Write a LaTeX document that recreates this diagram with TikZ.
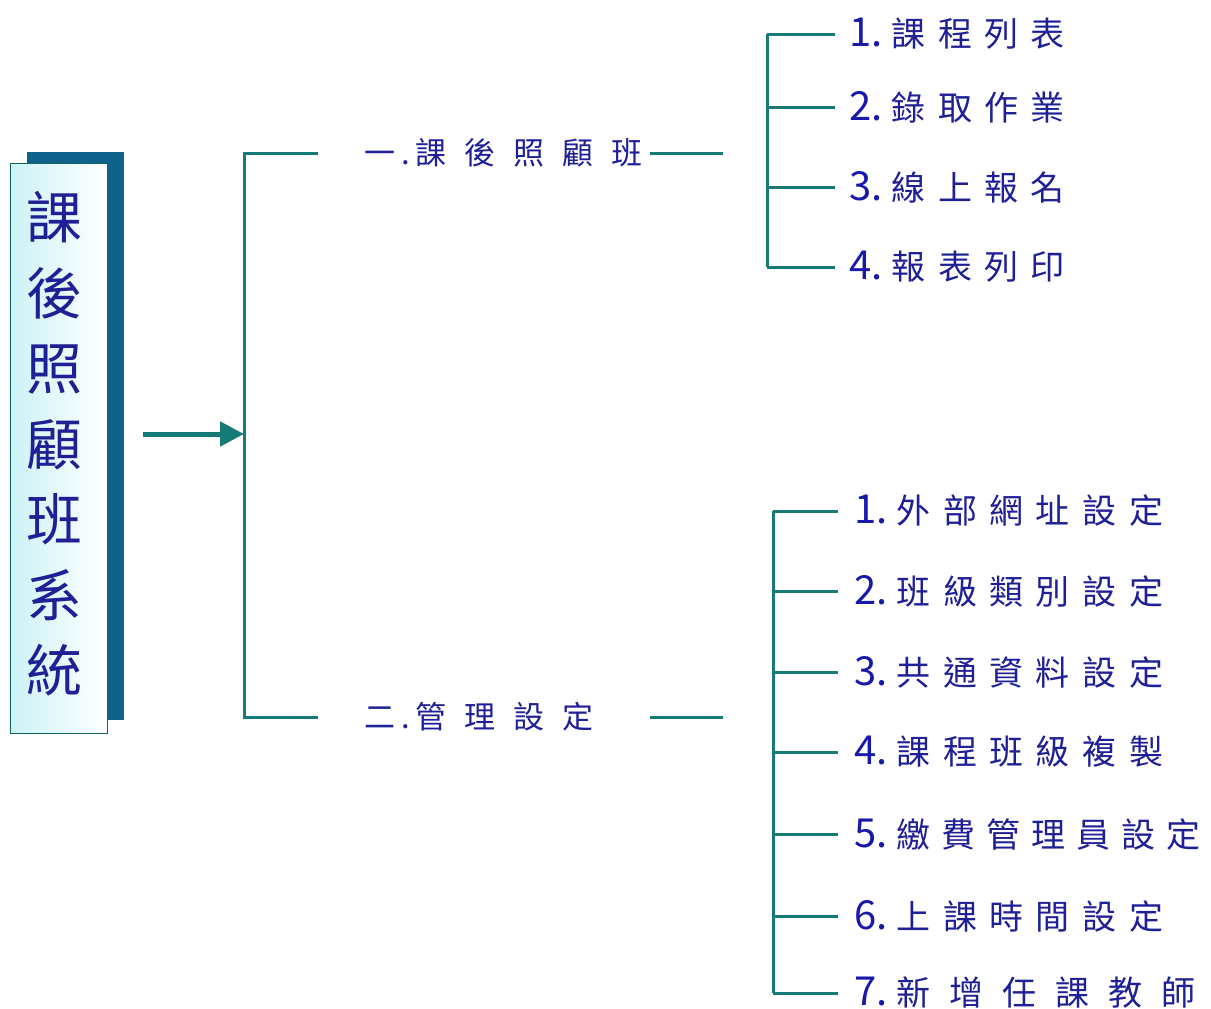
\documentclass[tikz,border=0pt]{standalone}
\usepackage{fontspec}
\newfontfamily\cjk{Noto Sans CJK TC}
\usetikzlibrary{arrows.meta,calc}
\definecolor{txtc}{RGB}{32,32,150}
\definecolor{numc}{RGB}{24,24,170}
\definecolor{lnc}{RGB}{22,122,118}
\definecolor{shadc}{RGB}{14,98,140}
\definecolor{boxl}{RGB}{205,242,246}
\newcommand\gp{\hspace{12.5pt}}
\newcommand\gw{\hspace{19pt}}
\newcommand\gq{\hspace{18pt}}
\newcommand\num[1]{{\color{numc}\fontsize{40}{40}\selectfont #1.}\hspace{9pt}}
\begin{document}
\begin{tikzpicture}[x=1pt,y=-1pt,
  ln/.style={draw=lnc,line width=3pt},
  lvtwo/.style={anchor=west,inner sep=0pt,text=txtc,font=\cjk\fontsize{31}{36}\selectfont},
  lvthree/.style={anchor=west,inner ysep=0pt,text=txtc,font=\cjk\fontsize{34}{40}\selectfont}]
\useasboundingbox (0,0) rectangle (1211,1009);
% main box with shadow
\fill[shadc] (27,152) rectangle (124,720);
\node[draw=lnc!80!black,line width=1pt,left color=boxl,right color=white,
      minimum width=97pt,minimum height=570pt,inner sep=0pt] (main) at (58.5,448) {};
\node[text=txtc,align=center,font=\cjk\fontsize{56}{75.5}\selectfont] (title) at (55,444)
  {課\\後\\照\\顧\\班\\系\\統};
% arrow to bracket
\coordinate (As) at (143,434);
\coordinate (Am) at (244,434);
\draw[draw=lnc,line width=5pt,-{Triangle[length=24pt,width=24pt]}] (As) -- (Am);
% first bracket
\coordinate (T) at (244,153);
\coordinate (B) at (244,717);
\coordinate (Te) at (318,153);
\coordinate (Be) at (318,717);
\draw[ln] (Te) -- (T) -- (B) -- (Be);
\node[lvtwo] (L1) at (364,153) {一\hspace{6pt}.\hspace{6pt}課\gq{}後\gq{}照\gq{}顧\gq{}班};
\node[lvtwo] (L2) at (364,717) {二\hspace{6pt}.\hspace{6pt}管\gq{}理\gq{}設\gq{}定};
\coordinate (L1a) at (650,153); \coordinate (L1b) at (723,153);
\coordinate (L2a) at (650,717); \coordinate (L2b) at (723,717);
\draw[ln] (L1a) -- (L1b);
\draw[ln] (L2a) -- (L2b);
% top-right group
\coordinate (ax) at (767,0);
\begin{scope}[every node/.append style={lvthree,inner xsep=14pt}]
\node (a1) at (835,34)  {\num{1}課\gp{}程\gp{}列\gp{}表};
\node (a2) at (835,107) {\num{2}錄\gp{}取\gp{}作\gp{}業};
\node (a3) at (835,187) {\num{3}線\gp{}上\gp{}報\gp{}名};
\node (a4) at (835,267) {\num{4}報\gp{}表\gp{}列\gp{}印};
\end{scope}
\draw[ln] (a1.west -| ax) -- (a4.west -| ax);
\foreach \n in {a1,a2,a3,a4} \draw[ln] (\n.west) -- (\n.west -| ax);
% bottom-right group
\coordinate (bx) at (773,0);
\begin{scope}[every node/.append style={lvthree,inner xsep=16pt}]
\node (b1) at (838,511) {\num{1}外\gp{}部\gp{}網\gp{}址\gp{}設\gp{}定};
\node (b2) at (838,591) {\num{2}班\gp{}級\gp{}類\gp{}別\gp{}設\gp{}定};
\node (b3) at (838,672) {\num{3}共\gp{}通\gp{}資\gp{}料\gp{}設\gp{}定};
\node (b4) at (838,752) {\num{4}課\gp{}程\gp{}班\gp{}級\gp{}複\gp{}製};
\node (b5) at (838,834) {\num{5}繳\hspace{11pt}費\hspace{11pt}管\hspace{11pt}理\hspace{11pt}員\hspace{11pt}設\hspace{11pt}定};
\node (b6) at (838,916) {\num{6}上\gp{}課\gp{}時\gp{}間\gp{}設\gp{}定};
\node (b7) at (838,993) {\num{7}新\gw{}增\gw{}任\gw{}課\gw{}教\gw{}師};
\end{scope}
\draw[ln] (b1.west -| bx) -- (b7.west -| bx);
\foreach \n in {b1,b2,b3,b4,b5,b6,b7} \draw[ln] (\n.west) -- (\n.west -| bx);
\end{tikzpicture}
\end{document}
